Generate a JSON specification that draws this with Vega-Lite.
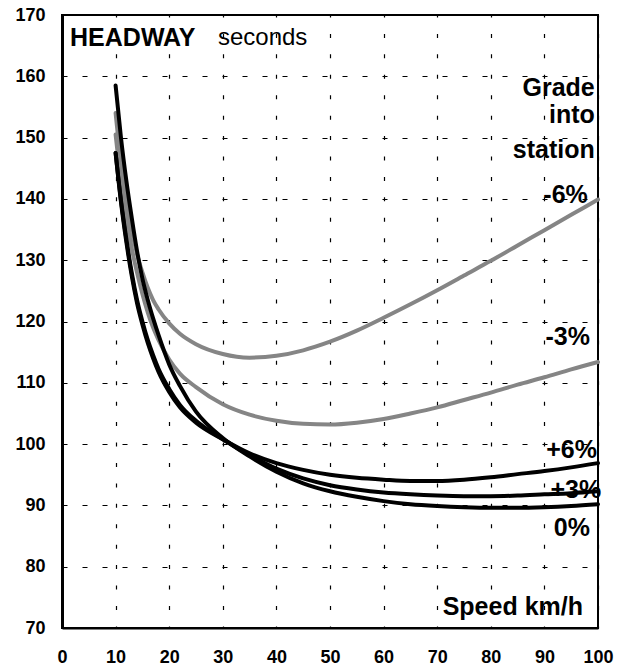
{
  "$schema": "https://vega.github.io/schema/vega-lite/v6.json",
  "width": 536,
  "height": 613,
  "autosize": "none",
  "padding": {"left": 62, "top": 15, "right": 26, "bottom": 42},
  "background": "white",
  "config": {
    "view": {"stroke": "black", "strokeWidth": 2},
    "font": "Liberation Sans"
  },
  "datasets": {
    "curves": [
      {"grade": "-6%", "speed": 10, "headway": 154},
      {"grade": "-6%", "speed": 11, "headway": 146},
      {"grade": "-6%", "speed": 12, "headway": 140},
      {"grade": "-6%", "speed": 13, "headway": 135},
      {"grade": "-6%", "speed": 14, "headway": 131},
      {"grade": "-6%", "speed": 15, "headway": 128},
      {"grade": "-6%", "speed": 16, "headway": 125.5},
      {"grade": "-6%", "speed": 17, "headway": 123.5},
      {"grade": "-6%", "speed": 18, "headway": 122},
      {"grade": "-6%", "speed": 20, "headway": 119.7},
      {"grade": "-6%", "speed": 22, "headway": 118},
      {"grade": "-6%", "speed": 25, "headway": 116.3},
      {"grade": "-6%", "speed": 30, "headway": 114.7},
      {"grade": "-6%", "speed": 35, "headway": 114.1},
      {"grade": "-6%", "speed": 40, "headway": 114.4},
      {"grade": "-6%", "speed": 45, "headway": 115.3},
      {"grade": "-6%", "speed": 50, "headway": 116.7},
      {"grade": "-6%", "speed": 55, "headway": 118.5},
      {"grade": "-6%", "speed": 60, "headway": 120.6},
      {"grade": "-6%", "speed": 65, "headway": 122.8},
      {"grade": "-6%", "speed": 70, "headway": 125.1},
      {"grade": "-6%", "speed": 75, "headway": 127.5},
      {"grade": "-6%", "speed": 80, "headway": 129.9},
      {"grade": "-6%", "speed": 85, "headway": 132.4},
      {"grade": "-6%", "speed": 90, "headway": 134.9},
      {"grade": "-6%", "speed": 95, "headway": 137.4},
      {"grade": "-6%", "speed": 100, "headway": 139.9},
      {"grade": "-3%", "speed": 10, "headway": 150.5},
      {"grade": "-3%", "speed": 11, "headway": 143},
      {"grade": "-3%", "speed": 12, "headway": 137},
      {"grade": "-3%", "speed": 13, "headway": 132},
      {"grade": "-3%", "speed": 14, "headway": 128},
      {"grade": "-3%", "speed": 15, "headway": 124.5},
      {"grade": "-3%", "speed": 16, "headway": 121.5},
      {"grade": "-3%", "speed": 17, "headway": 119},
      {"grade": "-3%", "speed": 18, "headway": 117},
      {"grade": "-3%", "speed": 20, "headway": 113.8},
      {"grade": "-3%", "speed": 22, "headway": 111.5},
      {"grade": "-3%", "speed": 25, "headway": 109.3},
      {"grade": "-3%", "speed": 30, "headway": 106.5},
      {"grade": "-3%", "speed": 35, "headway": 104.8},
      {"grade": "-3%", "speed": 40, "headway": 103.8},
      {"grade": "-3%", "speed": 45, "headway": 103.3},
      {"grade": "-3%", "speed": 50, "headway": 103.2},
      {"grade": "-3%", "speed": 55, "headway": 103.5},
      {"grade": "-3%", "speed": 60, "headway": 104.1},
      {"grade": "-3%", "speed": 65, "headway": 105},
      {"grade": "-3%", "speed": 70, "headway": 106},
      {"grade": "-3%", "speed": 75, "headway": 107.2},
      {"grade": "-3%", "speed": 80, "headway": 108.4},
      {"grade": "-3%", "speed": 85, "headway": 109.7},
      {"grade": "-3%", "speed": 90, "headway": 110.9},
      {"grade": "-3%", "speed": 95, "headway": 112.2},
      {"grade": "-3%", "speed": 100, "headway": 113.4},
      {"grade": "+6%", "speed": 10, "headway": 147.5},
      {"grade": "+6%", "speed": 11, "headway": 139.5},
      {"grade": "+6%", "speed": 12, "headway": 133},
      {"grade": "+6%", "speed": 13, "headway": 127.5},
      {"grade": "+6%", "speed": 14, "headway": 123},
      {"grade": "+6%", "speed": 15, "headway": 119.5},
      {"grade": "+6%", "speed": 16, "headway": 116.5},
      {"grade": "+6%", "speed": 17, "headway": 114},
      {"grade": "+6%", "speed": 18, "headway": 111.8},
      {"grade": "+6%", "speed": 20, "headway": 108.5},
      {"grade": "+6%", "speed": 22, "headway": 106},
      {"grade": "+6%", "speed": 25, "headway": 103.5},
      {"grade": "+6%", "speed": 30, "headway": 100.8},
      {"grade": "+6%", "speed": 35, "headway": 98.5},
      {"grade": "+6%", "speed": 40, "headway": 96.9},
      {"grade": "+6%", "speed": 45, "headway": 95.8},
      {"grade": "+6%", "speed": 50, "headway": 95},
      {"grade": "+6%", "speed": 55, "headway": 94.5},
      {"grade": "+6%", "speed": 60, "headway": 94.2},
      {"grade": "+6%", "speed": 65, "headway": 94},
      {"grade": "+6%", "speed": 70, "headway": 94},
      {"grade": "+6%", "speed": 75, "headway": 94.2},
      {"grade": "+6%", "speed": 80, "headway": 94.6},
      {"grade": "+6%", "speed": 85, "headway": 95.1},
      {"grade": "+6%", "speed": 90, "headway": 95.6},
      {"grade": "+6%", "speed": 95, "headway": 96.2},
      {"grade": "+6%", "speed": 100, "headway": 96.9},
      {"grade": "+3%", "speed": 10, "headway": 147.5},
      {"grade": "+3%", "speed": 11, "headway": 139.8},
      {"grade": "+3%", "speed": 12, "headway": 133.5},
      {"grade": "+3%", "speed": 13, "headway": 128},
      {"grade": "+3%", "speed": 14, "headway": 123.5},
      {"grade": "+3%", "speed": 15, "headway": 120},
      {"grade": "+3%", "speed": 16, "headway": 117},
      {"grade": "+3%", "speed": 17, "headway": 114.5},
      {"grade": "+3%", "speed": 18, "headway": 112.3},
      {"grade": "+3%", "speed": 20, "headway": 109},
      {"grade": "+3%", "speed": 22, "headway": 106.4},
      {"grade": "+3%", "speed": 25, "headway": 103.8},
      {"grade": "+3%", "speed": 30, "headway": 100.8},
      {"grade": "+3%", "speed": 35, "headway": 98.2},
      {"grade": "+3%", "speed": 40, "headway": 96},
      {"grade": "+3%", "speed": 45, "headway": 94.4},
      {"grade": "+3%", "speed": 50, "headway": 93.3},
      {"grade": "+3%", "speed": 55, "headway": 92.6},
      {"grade": "+3%", "speed": 60, "headway": 92.1},
      {"grade": "+3%", "speed": 65, "headway": 91.8},
      {"grade": "+3%", "speed": 70, "headway": 91.6},
      {"grade": "+3%", "speed": 75, "headway": 91.5},
      {"grade": "+3%", "speed": 80, "headway": 91.5},
      {"grade": "+3%", "speed": 85, "headway": 91.6},
      {"grade": "+3%", "speed": 90, "headway": 91.8},
      {"grade": "+3%", "speed": 95, "headway": 92},
      {"grade": "+3%", "speed": 100, "headway": 92.3},
      {"grade": "0%", "speed": 10, "headway": 158.5},
      {"grade": "0%", "speed": 11, "headway": 150},
      {"grade": "0%", "speed": 12, "headway": 143},
      {"grade": "0%", "speed": 13, "headway": 137},
      {"grade": "0%", "speed": 14, "headway": 131.5},
      {"grade": "0%", "speed": 15, "headway": 127},
      {"grade": "0%", "speed": 16, "headway": 123.5},
      {"grade": "0%", "speed": 17, "headway": 120.5},
      {"grade": "0%", "speed": 18, "headway": 117.8},
      {"grade": "0%", "speed": 20, "headway": 113},
      {"grade": "0%", "speed": 22, "headway": 109.5},
      {"grade": "0%", "speed": 25, "headway": 105.3},
      {"grade": "0%", "speed": 30, "headway": 101},
      {"grade": "0%", "speed": 35, "headway": 98},
      {"grade": "0%", "speed": 40, "headway": 95.5},
      {"grade": "0%", "speed": 45, "headway": 93.6},
      {"grade": "0%", "speed": 50, "headway": 92.3},
      {"grade": "0%", "speed": 55, "headway": 91.4},
      {"grade": "0%", "speed": 60, "headway": 90.7},
      {"grade": "0%", "speed": 65, "headway": 90.2},
      {"grade": "0%", "speed": 70, "headway": 89.9},
      {"grade": "0%", "speed": 75, "headway": 89.7},
      {"grade": "0%", "speed": 80, "headway": 89.6},
      {"grade": "0%", "speed": 85, "headway": 89.6},
      {"grade": "0%", "speed": 90, "headway": 89.7},
      {"grade": "0%", "speed": 95, "headway": 89.9},
      {"grade": "0%", "speed": 100, "headway": 90.2}
    ],
    "labels": [
      {"text": "Grade", "speed": 99.4, "headway": 158.1, "kind": "right"},
      {"text": "into", "speed": 99.4, "headway": 153.7, "kind": "right"},
      {"text": "station", "speed": 99.4, "headway": 147.9, "kind": "right"},
      {"text": "-6%", "speed": 98.1, "headway": 140.6, "kind": "right"},
      {"text": "-3%", "speed": 98.5, "headway": 117.5, "kind": "right"},
      {"text": "+6%", "speed": 99.8, "headway": 99.0, "kind": "right"},
      {"text": "+3%", "speed": 100.6, "headway": 92.5, "kind": "right"},
      {"text": "0%", "speed": 98.5, "headway": 86.3, "kind": "right"},
      {"text": "Speed km/h", "speed": 97.2, "headway": 73.4, "kind": "right"},
      {"text": "HEADWAY", "speed": 1.5, "headway": 166.2, "kind": "bold"},
      {"text": "seconds", "speed": 29.1, "headway": 166.2, "kind": "plain"}
    ]
  },
  "layer": [
    {
      "data": {"name": "curves"},
      "mark": {"type": "line", "interpolate": "monotone", "strokeCap": "round"},
      "encoding": {
        "x": {
          "field": "speed", "type": "quantitative",
          "scale": {"domain": [0, 100], "nice": false, "zero": false},
          "axis": {
            "title": null,
            "values": [0, 5, 10, 15, 20, 25, 30, 35, 40, 45, 50, 55, 60, 65, 70, 75, 80, 85, 90, 95, 100],
            "labelExpr": "datum.value % 10 === 0 ? datum.label : ''",
            "ticks": false,
            "domain": true, "domainColor": "black", "domainWidth": 2,
            "labelFont": "Liberation Sans", "labelFontSize": 18, "labelFontWeight": "bold", "labelColor": "black",
            "labelPadding": 20, "labelFlush": false,
            "grid": true, "gridColor": "black", "gridOpacity": 1, "gridWidth": 1.2, "gridDash": [4, 16.43], "gridDashOffset": 2
          }
        },
        "y": {
          "field": "headway", "type": "quantitative",
          "scale": {"domain": [70, 170], "nice": false, "zero": false},
          "axis": {
            "title": null,
            "values": [70, 80, 90, 100, 110, 120, 130, 140, 150, 160, 170],
            "ticks": false,
            "domain": true, "domainColor": "black", "domainWidth": 3,
            "labelFont": "Liberation Sans", "labelFontSize": 18, "labelFontWeight": "bold", "labelColor": "black",
            "labelPadding": 17, "labelFlush": false,
            "grid": true, "gridColor": "black", "gridOpacity": 1, "gridWidth": 1.2, "gridDash": [5, 15]
          }
        },
        "color": {
          "field": "grade", "type": "nominal",
          "scale": {"domain": ["-6%", "-3%", "+6%", "+3%", "0%"], "range": ["#858585", "#858585", "#000000", "#000000", "#000000"]},
          "legend": null
        },
        "strokeWidth": {
          "field": "grade", "type": "nominal",
          "scale": {"domain": ["-6%", "-3%", "+6%", "+3%", "0%"], "range": [4, 4, 2.5, 2.5, 4.5]},
          "legend": null
        }
      }
    },
    {
      "data": {"name": "labels"},
      "transform": [{"filter": "datum.kind === 'right'"}],
      "mark": {"type": "text", "align": "right", "baseline": "middle", "font": "Liberation Sans", "fontSize": 25, "fontWeight": "bold", "color": "black"},
      "encoding": {
        "x": {"field": "speed", "type": "quantitative"},
        "y": {"field": "headway", "type": "quantitative"},
        "text": {"field": "text"}
      }
    },
    {
      "data": {"name": "labels"},
      "transform": [{"filter": "datum.kind === 'bold'"}],
      "mark": {"type": "text", "align": "left", "baseline": "middle", "font": "Liberation Sans", "fontSize": 25, "fontWeight": "bold", "color": "black"},
      "encoding": {
        "x": {"field": "speed", "type": "quantitative"},
        "y": {"field": "headway", "type": "quantitative"},
        "text": {"field": "text"}
      }
    },
    {
      "data": {"name": "labels"},
      "transform": [{"filter": "datum.kind === 'plain'"}],
      "mark": {"type": "text", "align": "left", "baseline": "middle", "font": "Liberation Sans", "fontSize": 24, "fontWeight": "normal", "color": "black"},
      "encoding": {
        "x": {"field": "speed", "type": "quantitative"},
        "y": {"field": "headway", "type": "quantitative"},
        "text": {"field": "text"}
      }
    }
  ]
}
